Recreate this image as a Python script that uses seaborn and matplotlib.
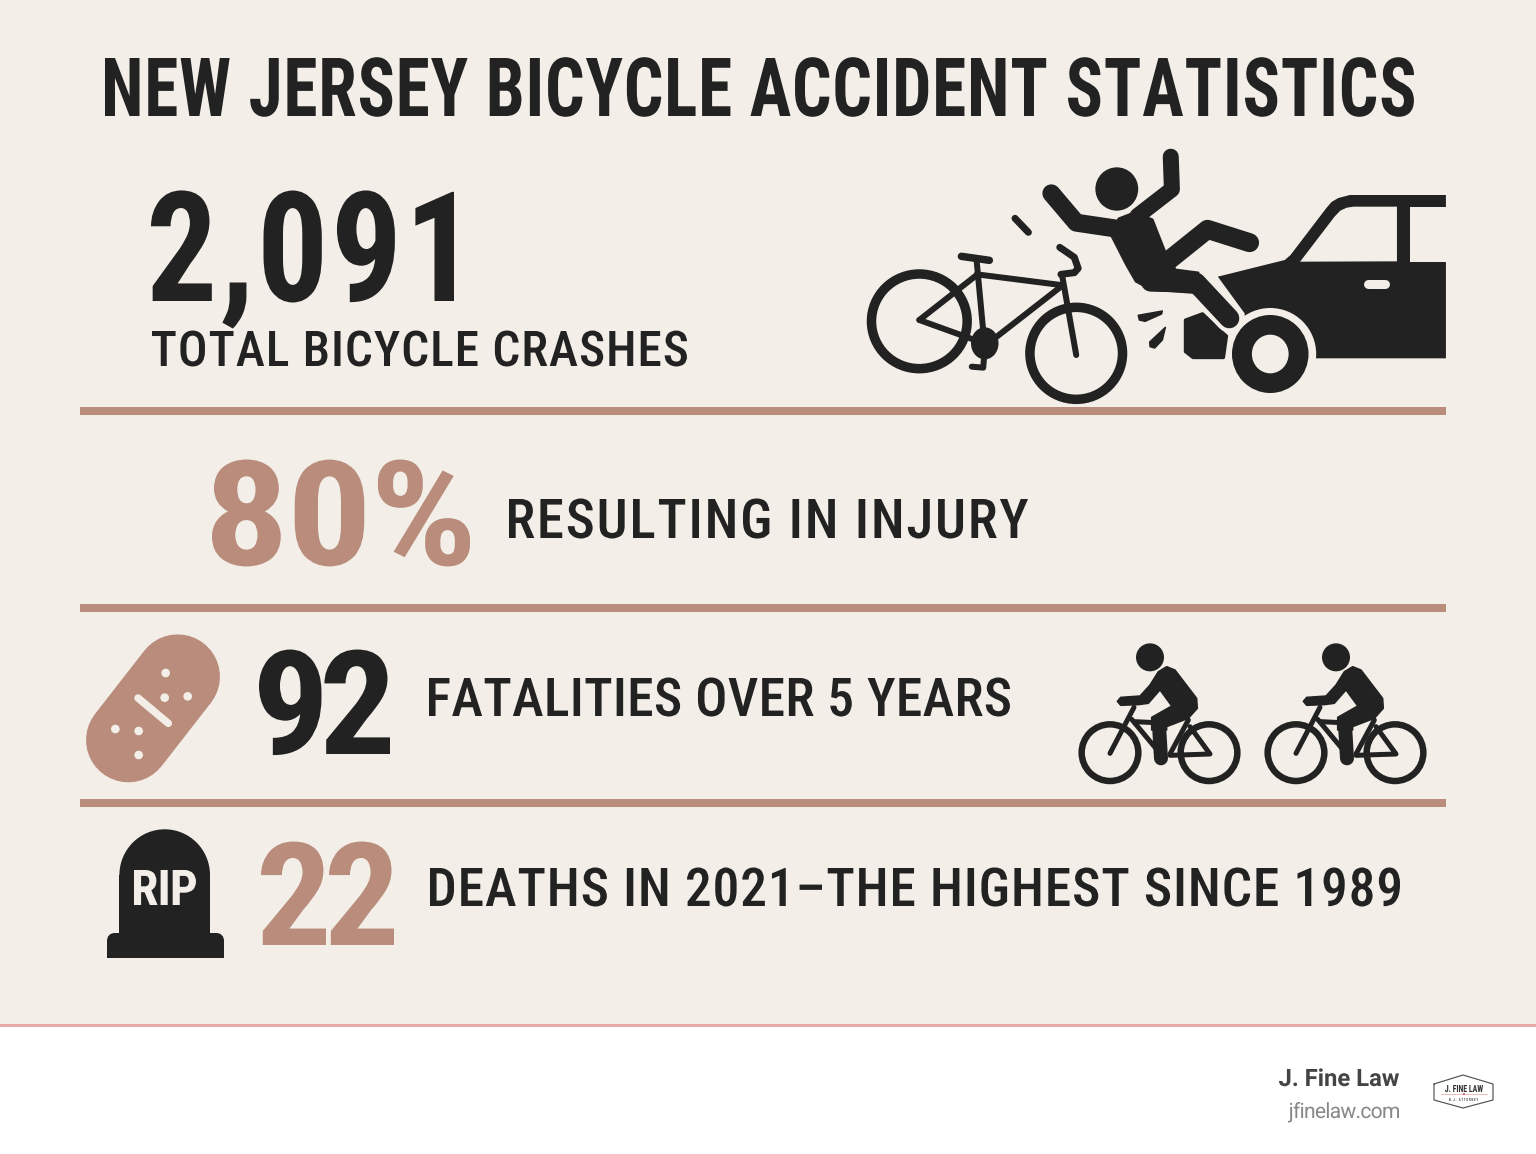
from bisect import bisect_left

import matplotlib
matplotlib.use("Agg")
import matplotlib.pyplot as plt
import matplotlib.patheffects as pe
import numpy as np
import seaborn as sns
from matplotlib.font_manager import FontProperties
from matplotlib.patches import Ellipse, Polygon, Rectangle, FancyBboxPatch
from matplotlib.path import Path
from matplotlib.textpath import TextPath
from matplotlib.transforms import Affine2D, IdentityTransform

# ---- content ----
TITLE = "NEW JERSEY BICYCLE ACCIDENT STATISTICS"
STAT_VALUES = ["2,091", "80%", "92", "22"]
STAT_LABELS = ["TOTAL BICYCLE CRASHES", "RESULTING IN INJURY",
               "FATALITIES OVER 5 YEARS",
               "DEATHS IN 2021\u2013THE HIGHEST SINCE 1989"]
BRAND = "J. Fine Law"
SITE = "jfinelaw.com"

# ---- style ----
BG = "#f3efe8"
INK = "#222222"
TAN = "#b98c7b"
PINK = "#e8aba5"
COND = "Roboto Condensed"

sns.set_theme(style="white")
plt.rcParams["font.family"] = [COND, "DejaVu Sans"]

fig = plt.figure(figsize=(15.36, 11.54), dpi=100, facecolor="white")
ax = fig.add_axes([0, 0, 1, 1])
ax.set_xlim(0, 1536)
ax.set_ylim(1154, 0)
ax.axis("off")
sns.despine(ax=ax, left=True, bottom=True)

PX = 0.72  # points per pixel at dpi 100


class Fitted(pe.AbstractPathEffect):
    """Letter-space and scale a text run so its ink fills a given box."""
    def __init__(self, s, fp, x0, x1, cap_top, base, glyph_w):
        super().__init__()
        self.box = (x0, x1, cap_top, base)
        self.glyph_w = glyph_w
        self.n = len(s)
        self.cap = TextPath((0, 0), "H", size=100, prop=fp).get_extents().height
        self.right = []
        for i in range(self.n):
            pre = s[:i + 1]
            self.right.append(TextPath((0, 0), pre, size=100, prop=fp).get_extents().x1 if pre.strip() else 0.0)

    def draw_path(self, renderer, gc, tpath, affine, rgbFace=None):
        x0, x1, cap_top, base = self.box
        v = np.array(tpath.vertices, dtype=float)
        codes = tpath.codes
        real = codes != Path.CLOSEPOLY
        ky = (base - cap_top) / self.cap
        kx = ky * self.glyph_w
        a, b = v[real, 0].min(), v[real, 0].max()
        track = ((x1 - x0) - (b - a) * kx) / max(self.n - 1, 1)
        starts = list(np.flatnonzero(codes == Path.MOVETO)) + [len(v)]
        out = v.copy()
        dx, dy = ax.transData.transform((x0, base))
        for s0, s1 in zip(starts[:-1], starts[1:]):
            seg = v[s0:s1, 0]
            seg_real = seg[real[s0:s1]]
            cx = 0.5 * (seg_real.min() + seg_real.max())
            idx = min(bisect_left(self.right, cx), self.n - 1)
            out[s0:s1, 0] = dx + (seg - a) * kx + idx * track
        out[:, 1] = dy + v[:, 1] * ky
        renderer.draw_path(gc, Path(out, codes), IdentityTransform(), rgbFace)


def fit(s, x0, x1, cap_top, base, color=INK, family=COND, weight=400, glyph_w=1.0, z=5):
    fp = FontProperties(family=family, weight=weight)
    cap = TextPath((0, 0), "H", size=100, prop=fp).get_extents().height
    ext = TextPath((0, 0), s, size=100, prop=fp).get_extents()
    size_px = (base - cap_top) / cap * 100
    size_px = min(size_px, 0.97 * (x1 - x0) / ext.width * 100)
    return ax.text(x0, base, s, fontproperties=fp, fontsize=size_px * PX, color=color,
                   ha="left", va="baseline", zorder=z,
                   path_effects=[Fitted(s, fp, x0, x1, cap_top, base, glyph_w)])


def stroke(pts, w, tr, color=INK, z=3, cap="round"):
    xs, ys = zip(*pts)
    ax.plot(xs, ys, color=color, lw=w * PX, solid_capstyle=cap, solid_joinstyle="round",
            transform=tr + ax.transData, zorder=z)


def poly(pts, tr, color=INK, z=3, edge=1.5):
    ax.add_patch(Polygon(pts, closed=True, fc=color, ec=color, lw=edge * PX, joinstyle="round",
                         transform=tr + ax.transData, zorder=z))


def ell(c, w, h, tr, fc=INK, ec="none", lw=0, z=3):
    ax.add_patch(Ellipse(c, w, h, fc=fc, ec=ec, lw=lw * PX, transform=tr + ax.transData, zorder=z))


ID = Affine2D()

# ---- panels ----
ax.add_patch(Rectangle((0, 0), 1536, 1025, fc=BG, ec="none", zorder=0))
ax.add_patch(Rectangle((0, 1024), 1536, 3, fc=PINK, ec="none", zorder=1))
for top in (407, 604, 799):
    ax.add_patch(Rectangle((80, top), 1366, 7.5, fc=TAN, ec="none", zorder=1))

# ---- text ----
fit(TITLE, 105, 1414, 58, 116, weight=700, glyph_w=0.85)
fit(STAT_VALUES[0], 151, 454, 192, 301, weight=700, glyph_w=0.92)
fit(STAT_LABELS[0], 152, 687, 331, 366, weight=500)
fit(STAT_VALUES[1], 212, 470, 461, 565, color=TAN, weight=700, glyph_w=1.15)
fit(STAT_LABELS[1], 509, 1028, 499, 538, weight=500)
fit(STAT_VALUES[2], 259, 390, 651, 754, weight=700, glyph_w=1.05)
fit(STAT_LABELS[2], 429, 1010, 678, 716, weight=500)
fit(STAT_VALUES[3], 261, 394, 843, 945, color=TAN, weight=700, glyph_w=1.05)
fit(STAT_LABELS[3], 430, 1400, 868, 906, weight=500)
fit("RIP", 134, 196, 870, 905, color=BG, weight=700, z=6)
fit(BRAND, 1279, 1399, 1069, 1086, color="#444444", family="Roboto", weight=700)
fit(SITE, 1288, 1399, 1103, 1118, color="#888888", family="Roboto", weight=400)

# ---- crash icon (traced at 2.613 x 3 units per pixel) ----
T = Affine2D().scale(1 / 2.613, 1 / 3.0).translate(860, 140)
# bicycle
ell((155, 544), 250, 284, T, fc="none", ec=INK, lw=9.5)
ell((565, 640), 242, 276, T, fc="none", ec=INK, lw=9.5, z=3)
F = 6
stroke([(155, 540), (305, 405)], F, T)
stroke([(155, 540), (295, 598)], F, T)
stroke([(305, 365), (325, 610)], F, T)
stroke([(305, 403), (525, 435)], F, T)
stroke([(525, 440), (335, 610)], F, T)
stroke([(528, 405), (565, 645)], F, T)
stroke([(265, 349), (338, 361)], 7.5, T)
stroke([(522, 322), (560, 352), (570, 385), (560, 398), (525, 403)], 7, T)
ell((326, 610), 72, 96, T)
stroke([(325, 640), (322, 683), (292, 680)], 6, T)
# impact marks
stroke([(405, 235), (440, 277)], 7, T)
poly([(727, 526), (790, 513), (788, 522), (745, 544), (730, 540)], T)
poly([(757, 606), (798, 562), (790, 600), (770, 624), (758, 620)], T)
# car
poly([(935, 410), (1110, 360), (1125, 345), (1218, 205), (1232, 186), (1250, 174), (1280, 165), (1531, 165),
      (1531, 655), (1190, 655), (1010, 655), (1005, 520)], T, edge=0)
poly([(1150, 365), (1240, 230), (1255, 212), (1272, 203), (1290, 200), (1403, 200), (1403, 364)], T, color=BG,
     edge=0, z=3.1)
poly([(1437, 200), (1535, 200), (1535, 365), (1437, 365)], T, color=BG, edge=0, z=3.1)
stroke([(1328, 433), (1372, 433)], 9, T, color=BG, z=3.1)
ell((1072, 642), 240, 276, T, fc=BG, z=3.2)
ell((1072, 642), 200, 234, T, z=3.3)
ell((1072, 642), 96, 116, T, fc=BG, z=3.4)
poly([(850, 540), (895, 521), (945, 575), (958, 588), (950, 653), (870, 653), (850, 635)], T, z=3.3, edge=3)
# rider
RIDER_LOWER_LEG = [(760, 425), (878, 428), (965, 535)]
stroke(RIDER_LOWER_LEG, 28, T, color=BG, z=3.5)
stroke(RIDER_LOWER_LEG, 20, T, z=4)
poly([(655, 285), (675, 235), (720, 215), (765, 238), (800, 340), (825, 388), (885, 397), (880, 460), (760, 450),
      (720, 425), (695, 375)], T, z=4)
stroke([(795, 372), (908, 268), (1018, 308)], 19, T, z=4)
stroke([(500, 160), (565, 248), (665, 265)], 18, T, z=4)
stroke([(812, 50), (815, 148), (725, 228)], 16, T, z=4)
ell((671, 147), 112, 130, T, z=4)

# ---- cyclists ----
for offset in (0, 558):
    C = Affine2D().scale(1 / 3).translate(1060 + offset / 3, 630)
    ell((150, 368), 170, 170, C, fc="none", ec=INK, lw=6.5)
    ell((447, 368), 170, 170, C, fc="none", ec=INK, lw=6.5)
    ell((270, 82), 84, 84, C)
    poly([(295, 125), (320, 110), (345, 120), (410, 205), (412, 235), (385, 265), (320, 290), (320, 300),
          (275, 300), (275, 262), (335, 228), (300, 180), (265, 220), (235, 224),
          (182, 226), (172, 214), (182, 202), (240, 198), (270, 165)], C)
    stroke([(297, 285), (303, 385)], 14, C)
    stroke([(150, 370), (222, 232)], 5, C)
    stroke([(215, 268), (300, 370)], 5, C)
    stroke([(225, 275), (285, 278)], 5, C)
    stroke([(385, 270), (330, 372)], 5, C)
    stroke([(390, 290), (450, 372), (330, 376)], 5, C)

# ---- bandage ----
B = Affine2D().scale(1 / 3).translate(70, 625)
stroke([(323, 155), (175, 345)], 84.6, B, color=TAN)
stroke([(204, 219), (295, 295)], 7.5, B, color=BG, z=4)
for c in [(287, 144), (284, 218), (353, 214), (136, 312), (206, 318), (206, 390)]:
    ell(c, 26, 26, B, fc=BG, z=4)

# ---- headstone ----
ell((164.7, 875), 90.6, 91.4, ID)
ax.add_patch(Rectangle((119.4, 875), 90.6, 70, fc=INK, ec="none", zorder=3))
ax.add_patch(FancyBboxPatch((111, 937), 109, 17, boxstyle="round,pad=0,rounding_size=4", fc=INK, ec=INK,
                            lw=8 * PX, zorder=3))
ax.add_patch(Rectangle((107, 945), 117, 13, fc=INK, ec="none", zorder=3))

# ---- footer logo ----
poly([(1434, 1084), (1463, 1075), (1493, 1084), (1493, 1100), (1463, 1108), (1434, 1100)], ID, color="white", edge=0, z=2)
stroke([(1434, 1084), (1463, 1075), (1493, 1084), (1493, 1100), (1463, 1108), (1434, 1100), (1434, 1084)],
       1.2, ID, color="#555555", z=3)
stroke([(1441, 1094), (1487, 1094)], 0.8, ID, color=PINK, z=3)
ell((1464, 1094), 2, 2, ID, fc="#d9534f", z=4)
fit("J. FINE LAW", 1445, 1483, 1085, 1092, color="#333333", weight=700, glyph_w=0.8)
fit("N.J. ATTORNEY", 1449, 1478, 1098, 1101, color="#444444", weight=700, glyph_w=0.7)

fig.savefig("out.png", dpi=100, facecolor="white")
